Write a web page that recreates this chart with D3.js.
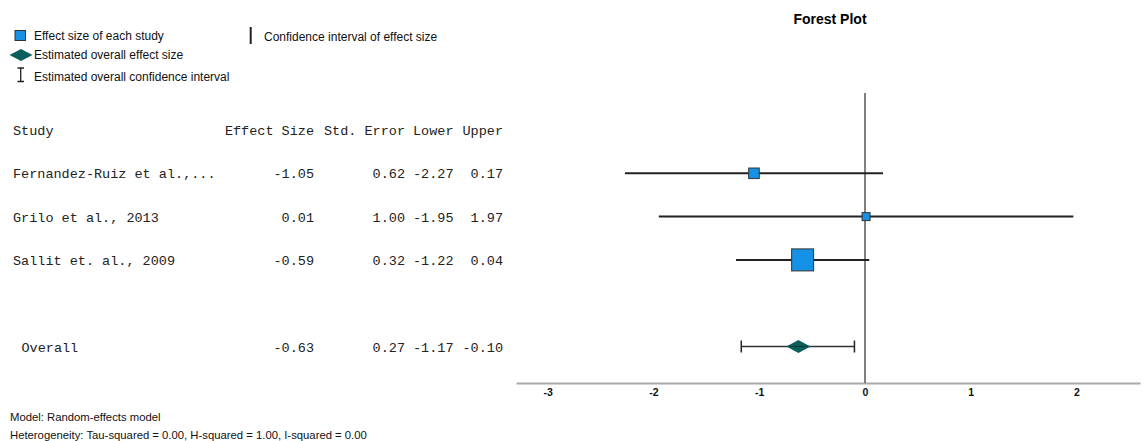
<!DOCTYPE html>
<html>
<head>
<meta charset="utf-8">
<script src="https://cdn.jsdelivr.net/npm/d3@7"></script>
<style>
  body { margin: 0; background: #fff; }
  text { font-family: "Liberation Sans", Arial, sans-serif; }
  .tbl text { font-family: "Liberation Mono", "Courier New", monospace; font-size: 13.5px; fill: #222; }
</style>
</head>
<body>
<script>
// study level data
var studies = ["Fernandez-Ruiz et al.,...", "Grilo et al., 2013", "Sallit et. al., 2009"];
var effect = [-1.05, 0.01, -0.59];
var stdErr = [0.62, 1.00, 0.32];
var lower = [-2.27, -1.95, -1.22];
var upper = [0.17, 1.97, 0.04];

// pooled estimate
var overallLabel = "Overall";
var overall = [-0.63, 0.27, -1.17, -0.10]; // effect, std error, lower, upper

var tickValues = [-3, -2, -1, 0, 1, 2];
var headers = ["Effect Size", "Std. Error", "Lower", "Upper"];

var width = 1144, height = 441;

var svg = d3.select("body").append("svg")
    .attr("width", width)
    .attr("height", height);

// scales
var x = d3.scaleLinear().domain([-3.3, 2.6]).range([516, 1140]);
var y = d3.scaleLinear().domain([0, 4]).range([173.3, 346.5]);
var weights = stdErr.map(function(s){ return 1 / (s * s); });
var size = d3.scaleLinear().domain(d3.extent(weights)).range([8, 22]);

// title
svg.append("text")
    .attr("x", 830).attr("y", 24)
    .attr("text-anchor", "middle")
    .style("font-size", "14px").style("font-weight", "bold")
    .text("Forest Plot");

// legend
var legend = svg.append("g").attr("class", "legend").style("font-size", "12px").style("fill", "#111");
legend.append("rect").attr("x", 15).attr("y", 30.5).attr("width", 10.5).attr("height", 10)
    .attr("fill", "#1591e6").attr("stroke", "#333").attr("stroke-width", 1);
legend.append("text").attr("x", 34).attr("y", 36).attr("dominant-baseline", "central").text("Effect size of each study");
legend.append("path").attr("d", "M9.5,55 L21,49 L32.5,55 L21,61 Z").attr("fill", "#0b5e5b");
legend.append("text").attr("x", 34).attr("y", 54.5).attr("dominant-baseline", "central").text("Estimated overall effect size");
legend.append("path").attr("d", "M17.5,68 H24 M20.7,68 V81.5 M17.5,81.5 H24").attr("stroke", "#222").attr("stroke-width", 1.3).attr("fill", "none");
legend.append("text").attr("x", 34).attr("y", 76.5).attr("dominant-baseline", "central").text("Estimated overall confidence interval");
legend.append("line").attr("x1", 250.7).attr("x2", 250.7).attr("y1", 27).attr("y2", 44).attr("stroke", "#222").attr("stroke-width", 2);
legend.append("text").attr("x", 264).attr("y", 36.5).attr("dominant-baseline", "central").text("Confidence interval of effect size");

// table
var colX = [314, 405, 453.5, 503];
var table = svg.append("g").attr("class", "tbl");
table.append("text").attr("x", 13).attr("y", 131).attr("dominant-baseline", "central").text("Study");
headers.forEach(function(h, j){
  table.append("text").attr("x", colX[j]).attr("y", 131).attr("text-anchor", "end")
      .attr("dominant-baseline", "central").text(h);
});
studies.forEach(function(s, i){
  var yy = y(i) + 1.5;
  table.append("text").attr("x", 13).attr("y", yy).attr("dominant-baseline", "central").text(s);
  [effect[i], stdErr[i], lower[i], upper[i]].forEach(function(v, j){
    table.append("text").attr("x", colX[j]).attr("y", yy).attr("text-anchor", "end")
        .attr("dominant-baseline", "central").text(d3.format(".2f")(v).replace("−", "-"));
  });
});
table.append("text").attr("x", 21.5).attr("y", y(4) + 1.8).attr("dominant-baseline", "central").text(overallLabel);
overall.forEach(function(v, j){
  table.append("text").attr("x", colX[j]).attr("y", y(4) + 1.8).attr("text-anchor", "end")
      .attr("dominant-baseline", "central").text(d3.format(".2f")(v).replace("−", "-"));
});

// x axis
var axis = svg.append("g")
    .attr("transform", "translate(0,383)")
    .call(d3.axisBottom(x).tickValues(tickValues).tickSize(0).tickPadding(6)
        .tickFormat(function(d){ return String(d); }));
axis.select(".domain").attr("stroke", "#aaa").attr("stroke-width", 2);
axis.selectAll("text").style("font-size", "10.5px").style("font-weight", "bold")
    .style("font-family", "'Liberation Sans', Arial, sans-serif").attr("fill", "#111");

// line of no effect
svg.append("line")
    .attr("x1", x(0)).attr("x2", x(0))
    .attr("y1", 93).attr("y2", 383)
    .attr("stroke", "#555").attr("stroke-width", 1.5);

// confidence intervals
svg.selectAll(".ci").data(studies).enter().append("line")
    .attr("class", "ci")
    .attr("x1", function(d, i){ return x(lower[i]); })
    .attr("x2", function(d, i){ return x(upper[i]); })
    .attr("y1", function(d, i){ return y(i); })
    .attr("y2", function(d, i){ return y(i); })
    .attr("stroke", "#222").attr("stroke-width", 2);

// study squares
svg.selectAll(".sq").data(studies).enter().append("rect")
    .attr("class", "sq")
    .attr("x", function(d, i){ return x(effect[i]) - size(weights[i]) / 2; })
    .attr("y", function(d, i){ return y(i) - size(weights[i]) / 2; })
    .attr("width", function(d, i){ return size(weights[i]); })
    .attr("height", function(d, i){ return size(weights[i]); })
    .attr("fill", "#1591e6").attr("stroke", "#333").attr("stroke-width", 1);

// overall interval and diamond
var oy = y(4);
svg.append("line").attr("x1", x(overall[2])).attr("x2", x(overall[3]))
    .attr("y1", oy).attr("y2", oy).attr("stroke", "#333").attr("stroke-width", 1.3);
[overall[2], overall[3]].forEach(function(v){
  svg.append("line").attr("x1", x(v)).attr("x2", x(v)).attr("y1", oy - 6).attr("y2", oy + 6)
      .attr("stroke", "#222").attr("stroke-width", 1.5);
});
var ox = x(overall[0]);
svg.append("path")
    .attr("d", "M" + (ox - 12) + "," + oy + " L" + ox + "," + (oy - 6.5) + " L" + (ox + 12) + "," + oy + " L" + ox + "," + (oy + 6.5) + " Z")
    .attr("fill", "#0b5e5b");
svg.append("line").attr("x1", ox - 9).attr("x2", ox + 9).attr("y1", oy).attr("y2", oy)
    .attr("stroke", "#0a3a38").attr("stroke-width", 1);

// footer
var foot = svg.append("g").style("font-size", "11.3px").style("fill", "#111");
foot.append("text").attr("x", 10).attr("y", 416.5).attr("dominant-baseline", "central").text("Model: Random-effects model");
foot.append("text").attr("x", 10).attr("y", 435).attr("dominant-baseline", "central")
    .text("Heterogeneity: Tau-squared = 0.00, H-squared = 1.00, I-squared = 0.00");
</script>
</body>
</html>
